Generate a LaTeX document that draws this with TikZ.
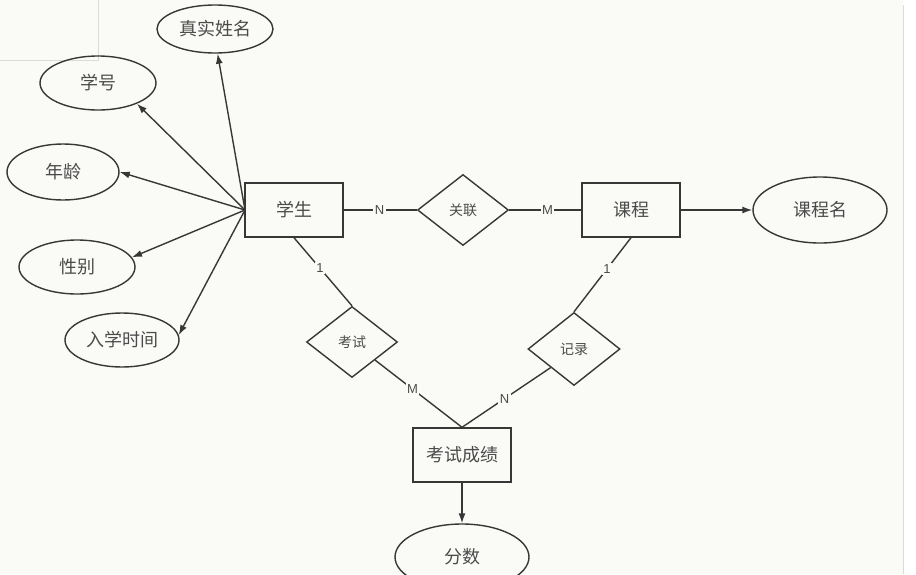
\documentclass[tikz,border=0pt]{standalone}
\usepackage{fontspec}
\newfontfamily\cjk{Noto Sans CJK SC}
\newfontfamily\lat{Liberation Sans}
\usetikzlibrary{shapes.geometric,arrows.meta}
\definecolor{bgc}{RGB}{250,250,247}
\definecolor{linec}{RGB}{55,55,55}
\definecolor{txtc}{RGB}{75,75,75}
\definecolor{faint}{RGB}{218,218,218}
\tikzset{
  every node/.style={text=txtc},
  entity/.style={draw=linec, line width=1.4pt, rectangle, minimum width=98pt, minimum height=54pt, inner sep=0pt, font=\cjk\fontsize{18}{20}\selectfont},
  attr/.style={draw=linec, line width=1.4pt, ellipse, inner sep=0pt, font=\cjk\fontsize{18}{20}\selectfont},
  rel/.style={draw=linec, line width=1.4pt, diamond, minimum width=91pt, minimum height=71pt, inner sep=0pt, font=\cjk\fontsize{14}{16}\selectfont},
  conn/.style={draw=linec, line width=1.4pt},
  arr/.style={draw=linec, line width=1.4pt, -{Latex[length=10pt,width=7pt]}},
  card/.style={fill=bgc, inner sep=1.5pt, font=\lat\fontsize{13}{14}\selectfont},
}
\begin{document}
\begin{tikzpicture}[x=1pt,y=-1pt]
\path[use as bounding box] (0,0) rectangle (916,574);
\clip (0,0) rectangle (916,574);
\fill[bgc] (0,0) rectangle (916,574);
\fill[white] (903,0) rectangle (916,574);
\draw[faint, line width=1pt] (0,60) -- (98,60) -- (98,0);
\draw[faint, line width=1pt] (903,5) -- (903,574);

% entities
\node[entity] (stu) at (294,210) {学生};
\node[entity] (kc) at (631,210) {课程};
\node[entity] (cj) at (462,455) {考试成绩};

% relations
\node[rel] (gl) at (463,210) {关联};
\node[rel] (ks) at (352,342) {考试};
\node[rel, minimum width=92pt, minimum height=73pt] (jl) at (574,349) {记录};

% attributes
\node[attr, minimum width=116pt, minimum height=48pt] (zsxm) at (215,29) {真实姓名};
\node[attr, minimum width=116pt, minimum height=54pt] (xh) at (98,83) {学号};
\node[attr, minimum width=112pt, minimum height=56pt] (nl) at (63,172) {年龄};
\node[attr, minimum width=116pt, minimum height=54pt] (xb) at (77,267) {性别};
\node[attr, minimum width=114pt, minimum height=54pt] (rxsj) at (122,340) {入学时间};
\node[attr, minimum width=134pt, minimum height=66pt] (kcm) at (820,210) {课程名};
\node[attr, minimum width=134pt, minimum height=66pt] (fs) at (462,557) {分数};

% attribute arrows
\coordinate (hub) at (245,210);
\draw[arr] (hub) -- (zsxm.-84);
\draw[arr] (hub) -- (xh.-28);
\draw[arr] (hub) -- (nl.0);
\draw[arr] (hub) -- (xb.10);
\draw[arr] (hub) -- (rxsj.5);
\draw[arr] (kc.east) -- (kcm.west);
\draw[arr] (cj.south) -- (fs.north);

% relationship lines
\draw[conn] (stu.east) -- node[card, pos=0.49] {N} (gl.west);
\draw[conn] (gl.east) -- node[card, pos=0.53] {M} (kc.west);
\draw[conn] (stu.south) -- node[card, pos=0.45] {1} (ks.north);
\draw[conn] (ks.south east) -- node[card, pos=0.43] {M} (cj.north);
\draw[conn] (kc.south) -- node[card, pos=0.42] {1} (jl.north);
\draw[conn] (jl.south west) -- node[card, pos=0.52] {N} (cj.north);
\end{tikzpicture}
\end{document}
